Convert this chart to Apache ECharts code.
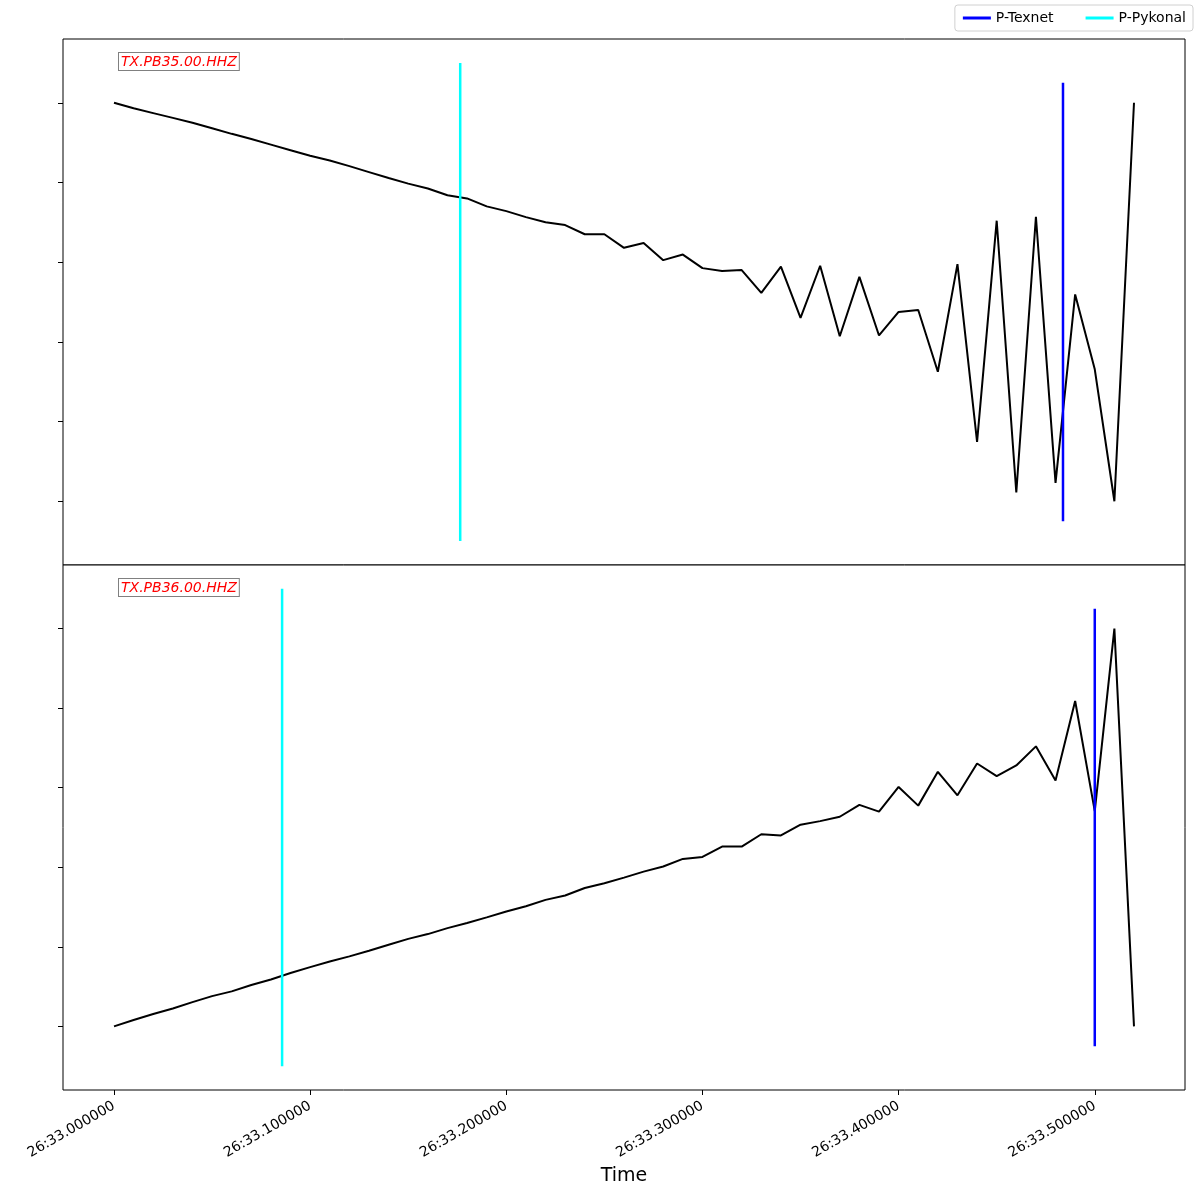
<!DOCTYPE html>
<html>
<head>
<meta charset="utf-8">
<script src="https://cdn.jsdelivr.net/npm/echarts@6/dist/echarts.min.js"></script>
<style>
  html, body { margin: 0; padding: 0; background: #fff; }
  #chart { width: 1200px; height: 1200px; }
</style>
</head>
<body>
<div id="chart"></div>
<script>
// sample offsets (s) after 26:33.000000
var sampleTimes = [0.00, 0.01, 0.02, 0.03, 0.04, 0.05, 0.06, 0.07, 0.08, 0.09,
    0.10, 0.11, 0.12, 0.13, 0.14, 0.15, 0.16, 0.17, 0.18, 0.19,
    0.20, 0.21, 0.22, 0.23, 0.24, 0.25, 0.26, 0.27, 0.28, 0.29,
    0.30, 0.31, 0.32, 0.33, 0.34, 0.35, 0.36, 0.37, 0.38, 0.39,
    0.40, 0.41, 0.42, 0.43, 0.44, 0.45, 0.46, 0.47, 0.48, 0.49,
    0.50, 0.51, 0.52];

// normalised traces
var pb35Values = [1.000, 0.986, 0.974, 0.962, 0.950, 0.936, 0.922, 0.909, 0.895, 0.881,
    0.867, 0.855, 0.841, 0.826, 0.811, 0.797, 0.785, 0.768, 0.760, 0.740,
    0.728, 0.713, 0.700, 0.693, 0.670, 0.670, 0.636, 0.648, 0.605, 0.619,
    0.585, 0.578, 0.580, 0.523, 0.589, 0.460, 0.591, 0.414, 0.563, 0.416,
    0.475, 0.480, 0.325, 0.595, 0.149, 0.704, 0.022, 0.714, 0.046, 0.519,
    0.331, 0.000, 1.000];

var pb36Values = [0.000, 0.016, 0.031, 0.045, 0.061, 0.076, 0.088, 0.104, 0.118, 0.134,
    0.149, 0.163, 0.176, 0.190, 0.205, 0.220, 0.232, 0.247, 0.260, 0.274,
    0.289, 0.302, 0.318, 0.329, 0.348, 0.360, 0.374, 0.389, 0.402, 0.421,
    0.426, 0.452, 0.452, 0.483, 0.480, 0.507, 0.516, 0.527, 0.557, 0.540,
    0.602, 0.555, 0.640, 0.581, 0.661, 0.629, 0.656, 0.704, 0.618, 0.818,
    0.541, 1.000, 0.000];

var stations = ['TX.PB35.00.HHZ', 'TX.PB36.00.HHZ'];
var pickTexnet = [0.4838, 0.5000];
var pickPykonal = [0.1765, 0.0857];
var texnetSpan = [-0.05, 1.05];
var pykonalSpan = [-0.1, 1.1];

var tickValues = [0, 0.1, 0.2, 0.3, 0.4, 0.5];
var tickLabels = ['26:33.000000', '26:33.100000', '26:33.200000',
    '26:33.300000', '26:33.400000', '26:33.500000'];
var yTicks = [0, 0.2, 0.4, 0.6, 0.8, 1.0];

var FONT = 'DejaVu Sans';
var chart = echarts.init(document.getElementById('chart'));

function pair(xs, ys) {
    return xs.map(function (x, i) { return [x, ys[i]]; });
}

var grids = [
    { left: 63, right: 15, top: 39, height: 526 },
    { left: 63, right: 15, top: 565, height: 525 }
];
grids.forEach(function (g) {
    g.show = true;
    g.borderColor = '#000';
    g.borderWidth = 1;
    g.backgroundColor = '#fff';
});

var xAxes = [0, 1].map(function (k) {
    var bottom = k === 1;
    return {
        type: 'value', gridIndex: k, min: -0.026, max: 0.546,
        axisLine: { show: false, onZero: false },
        splitLine: { show: false },
        axisTick: { show: bottom, customValues: tickValues, length: 5, lineStyle: { color: '#000' } },
        axisLabel: {
            show: bottom, customValues: tickValues, rotate: 30, margin: 15,
            color: '#000', fontFamily: FONT, fontSize: 14,
            formatter: function (v) {
                var i = tickValues.findIndex(function (t) { return Math.abs(t - v) < 1e-9; });
                return i >= 0 ? tickLabels[i] : '';
            }
        },
        name: bottom ? 'Time' : '', nameLocation: 'middle', nameGap: 77,
        nameTextStyle: { color: '#000', fontFamily: FONT, fontSize: 19 }
    };
});

var yAxes = [0, 1].map(function (k) {
    return {
        type: 'value', gridIndex: k, min: -0.16, max: 1.16,
        axisLine: { show: false, onZero: false },
        splitLine: { show: false },
        axisTick: { show: true, customValues: yTicks, length: 5, lineStyle: { color: '#000' } },
        axisLabel: { show: false }
    };
});

var series = [];
[pb35Values, pb36Values].forEach(function (vals, k) {
    series.push({
        type: 'line', xAxisIndex: k, yAxisIndex: k, data: pair(sampleTimes, vals),
        symbol: 'none', lineStyle: { color: '#000', width: 2 }, silent: true
    });
});
[0, 1].forEach(function (k) {
    series.push({
        name: 'P-Texnet', type: 'line', xAxisIndex: k, yAxisIndex: k,
        data: pair([pickTexnet[k], pickTexnet[k]], texnetSpan),
        symbol: 'none', color: '#0000ff', lineStyle: { color: '#0000ff', width: 2.5 }, z: 3
    });
    series.push({
        name: 'P-Pykonal', type: 'line', xAxisIndex: k, yAxisIndex: k,
        data: pair([pickPykonal[k], pickPykonal[k]], pykonalSpan),
        symbol: 'none', color: '#00ffff', lineStyle: { color: '#00ffff', width: 2.5 }, z: 3
    });
});

var graphics = stations.map(function (s, k) {
    return {
        type: 'text', left: 118, top: k === 0 ? 52 : 578, z: 100,
        style: {
            text: s, fill: '#ff0000', fontFamily: FONT, fontSize: 14, fontStyle: 'italic',
            backgroundColor: '#fff', borderColor: '#808080', borderWidth: 1,
            padding: [2, 2, 1, 2]
        }
    };
});

chart.setOption({
    animation: false,
    backgroundColor: '#fff',
    legend: {
        data: ['P-Texnet', 'P-Pykonal'], right: 7, top: 5,
        icon: 'rect', itemWidth: 28, itemHeight: 3, itemGap: 32,
        borderColor: '#d0d0d0', borderWidth: 1, borderRadius: 3,
        padding: [6, 7, 6, 8],
        textStyle: { color: '#000', fontFamily: FONT, fontSize: 14 }
    },
    grid: grids,
    xAxis: xAxes,
    yAxis: yAxes,
    series: series,
    graphic: graphics
});
</script>
</body>
</html>
